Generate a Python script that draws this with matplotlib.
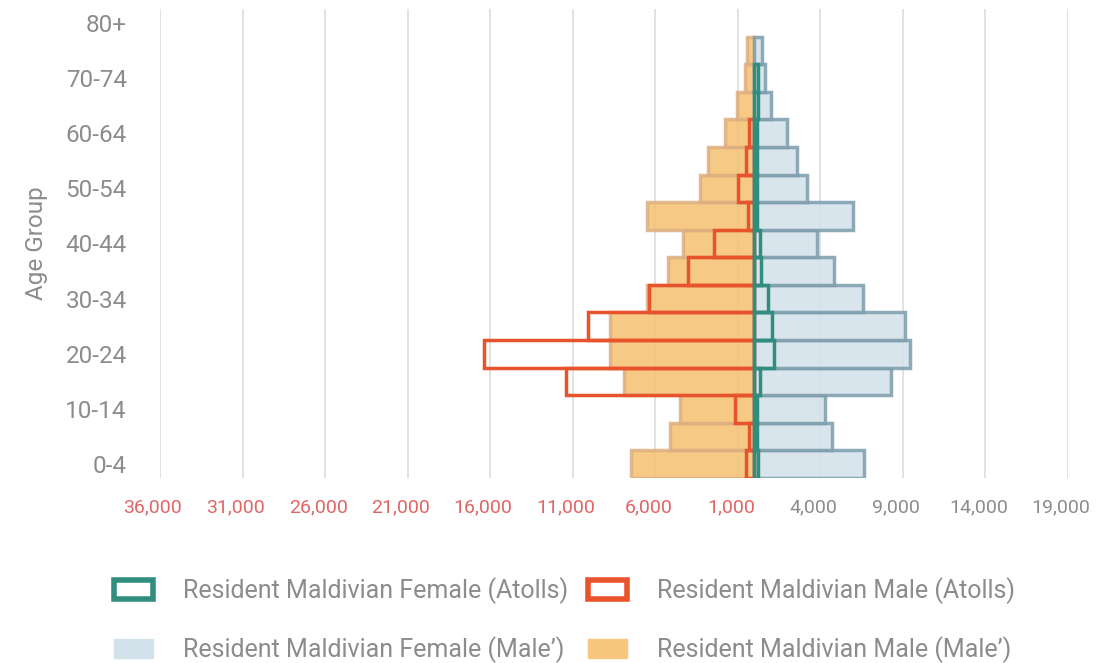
import numpy as np
import matplotlib
matplotlib.use('Agg')
import matplotlib.pyplot as plt
import matplotlib.transforms as mtransforms
from matplotlib.patches import Patch
from matplotlib.ticker import FixedLocator, FuncFormatter

plt.rcParams['font.family'] = ['Roboto', 'DejaVu Sans']

nan = np.nan
age_groups = ['0-4', '5-9', '10-14', '15-19', '20-24', '25-29', '30-34', '35-39',
              '40-44', '45-49', '50-54', '55-59', '60-64', '65-69', '70-74', '75-79', '80+']
# values (persons)
male_capital = [7500, 5100, 4500, 7900, 8750, 8750, 6500, 5200, 4300, 6500,
                3300, 2800, 1800, 1030, 550, 420, nan]
female_capital = [6650, 4700, 4300, 8300, 9400, 9150, 6600, 4800, 3800, 6000,
                  3200, 2600, 2000, 1000, 670, 480, nan]
male_atolls = [530, 300, 1200, 11400, 16400, 10100, 6400, 4000, 2450, 400,
               1000, 500, 300, nan, nan, nan, nan]
female_atolls = [200, 150, 150, 360, 1200, 1070, 830, 420, 350, 150,
                 150, 150, 150, 200, 200, nan, nan]
xticks = [-36000, -31000, -26000, -21000, -16000, -11000, -6000, -1000,
          4000, 9000, 14000, 19000]

ORANGE = '#F5C070'
ORANGE_EDGE = '#DDAE80'
BLUE = '#D3E1EA'
BLUE_EDGE = '#7C9DAC'
RED = '#E8532C'
TEAL = '#2F8E7E'
GRAY = '#8C8C8C'
NEG = '#E06666'

fig = plt.figure(figsize=(10.96, 6.63), dpi=100)
ax = fig.add_axes([160 / 1096, 1 - 478 / 663, (1068 - 160) / 1096, (478 - 9) / 663])

y = np.arange(len(age_groups))
ax.barh(y, -np.array(male_capital), height=1.0, color=ORANGE, edgecolor=ORANGE_EDGE,
        linewidth=2.5, alpha=0.85, zorder=2)
ax.barh(y, female_capital, height=1.0, color=BLUE, edgecolor=BLUE_EDGE,
        linewidth=2.5, alpha=0.85, zorder=2)
ax.barh(y, -np.array(male_atolls), height=1.0, facecolor='none', edgecolor=RED,
        linewidth=2.5, zorder=3)
ax.barh(y, female_atolls, height=1.0, facecolor='none', edgecolor=TEAL,
        linewidth=2.5, zorder=3)

ax.set_xlim(-36000, 19000)
ax.set_ylim(-0.5, 16.5)
ax.xaxis.set_major_locator(FixedLocator(xticks))
ax.xaxis.set_major_formatter(FuncFormatter(lambda v, p: f'{abs(int(v)):,}'))
ax.grid(axis='x', color='#DDDDDD', linewidth=1.2, zorder=0)
ax.set_axisbelow(True)
for s in ax.spines.values():
    s.set_visible(False)
ax.tick_params(axis='x', length=0, pad=15, labelsize=14)
shift = mtransforms.ScaledTranslation(-7 / 100, 0, fig.dpi_scale_trans)
for lbl, v in zip(ax.get_xticklabels(), xticks):
    lbl.set_color(NEG if v < 0 else GRAY)
    lbl.set_transform(lbl.get_transform() + shift)

ax.set_yticks(y[::2])
ax.set_yticklabels(age_groups[::2])
ax.tick_params(axis='y', length=0, pad=24, labelsize=17.5, labelcolor=GRAY)
ax.set_ylabel('Age Group', fontsize=17.5, color=GRAY, labelpad=12)

handles = [
    Patch(facecolor='white', edgecolor=TEAL, linewidth=4),
    Patch(facecolor=BLUE, edgecolor=BLUE, linewidth=1),
    Patch(facecolor='white', edgecolor=RED, linewidth=4),
    Patch(facecolor='#F7C77E', edgecolor='#F7C77E', linewidth=1),
]
labels = ['Resident Maldivian Female (Atolls)', "Resident Maldivian Female (Male’)",
          'Resident Maldivian Male (Atolls)', "Resident Maldivian Male (Male’)"]
leg = fig.legend(handles, labels, ncol=2, loc='center', bbox_to_anchor=(0.515, 1 - 620 / 663),
                 frameon=False, fontsize=18, labelcolor=GRAY, handlelength=1.55,
                 handleheight=0.8, handletextpad=1.2, labelspacing=1.3, columnspacing=0.8)

fig.savefig('out.png', dpi=100)
